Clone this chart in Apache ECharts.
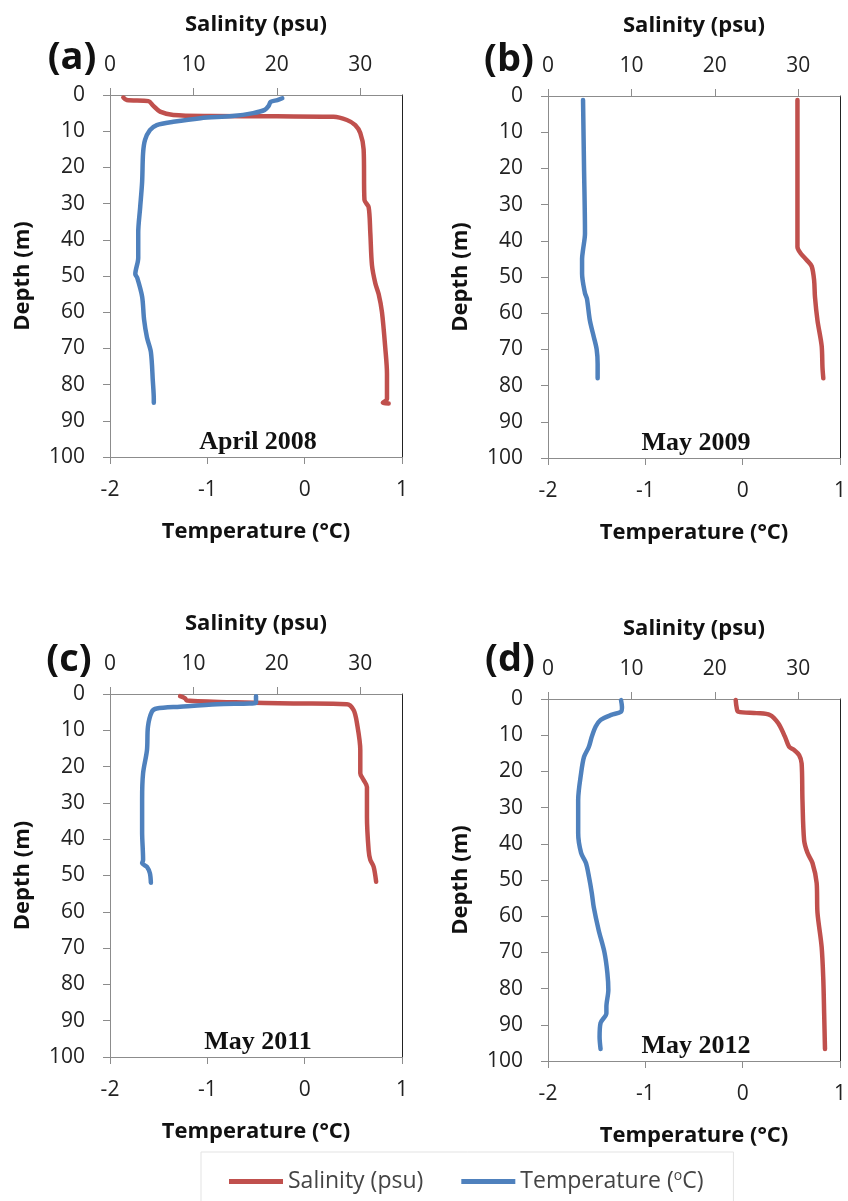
<!DOCTYPE html>
<html>
<head>
<meta charset="utf-8">
<script src="https://cdn.jsdelivr.net/npm/echarts@6/dist/echarts.min.js"></script>
<style>
  html, body { margin: 0; padding: 0; background: #fff; }
  #main { width: 848px; height: 1201px; }
</style>
</head>
<body>
<div id="main"></div>
<script>
// panel titles and dates
var panelTags = ['(a)', '(b)', '(c)', '(d)'];
var panelDates = ['April 2008', 'May 2009', 'May 2011', 'May 2012'];

// axis ticks
var salTicks = [0, 10, 20, 30];
var tempTicks = [-2, -1, 0, 1];
var depthTicks = [0, 10, 20, 30, 40, 50, 60, 70, 80, 90, 100];

// (a) April 2008
var salA =      [1.6, 2.0, 4.6, 5.2, 6.0, 7.6, 12, 20, 26.8, 28.4, 29.4, 30.0, 30.4, 30.5, 31.0, 31.2, 31.4, 31.8, 32.2, 32.6, 33.0, 33.2, 33.2, 32.7, 33.4];
var salADepth = [0.7, 1.4, 1.7, 3.0, 4.6, 5.5, 5.8, 5.9, 6.0, 6.9, 8.3, 10.5, 15, 29, 31, 38, 47, 52, 55, 60, 70, 77, 84, 85, 85.2];
var tempA =      [-0.23, -0.28, -0.35, -0.37, -0.41, -0.53, -0.74, -1.07, -1.35, -1.52, -1.59, -1.64, -1.66, -1.67, -1.69, -1.71, -1.71, -1.74, -1.72, -1.67, -1.65, -1.62, -1.58, -1.56, -1.55, -1.55];
var tempADepth = [0.9, 1.4, 1.9, 3.0, 4.1, 5.0, 5.8, 6.4, 7.4, 8.3, 9.7, 12.4, 16, 24, 31, 38, 45, 49.5, 50.5, 55.7, 62, 67, 71, 79, 84, 85];

// (b) May 2009
var salB =      [29.9, 29.9, 29.9, 29.9, 30.3, 31.0, 31.6, 31.9, 32.0, 32.3, 32.8, 32.9, 33.0];
var salBDepth = [1.1, 15, 30, 41.7, 43.5, 45.3, 47, 51, 55.5, 62, 69, 75, 78];
var tempB =      [-1.64, -1.63, -1.62, -1.64, -1.65, -1.65, -1.62, -1.60, -1.57, -1.53, -1.50, -1.49, -1.49];
var tempBDepth = [1.1, 19.5, 38, 42.5, 45, 49, 54.5, 56, 62, 66.5, 70, 74, 78];

// (c) May 2011
var salC =      [8.4, 9.0, 9.2, 15, 22, 28.4, 29.2, 29.6, 30.0, 30.0, 30.4, 30.8, 30.8, 31.0, 31.2, 31.6, 31.9];
var salCDepth = [0.6, 1.2, 1.8, 2.3, 2.6, 2.8, 4.4, 8, 15.4, 21.8, 23.7, 25.6, 33.8, 43, 45.7, 47.6, 51.7];
var tempC =      [-0.50, -0.50, -0.90, -1.28, -1.52, -1.57, -1.61, -1.62, -1.66, -1.67, -1.67, -1.66, -1.67, -1.62, -1.59, -1.58];
var tempCDepth = [0.6, 2.4, 2.8, 3.5, 4.0, 4.9, 9, 15.4, 21.8, 29, 38, 45.7, 46.6, 47.6, 49.4, 52];

// (d) May 2012
var salD =      [22.5, 22.6, 22.8, 25.0, 26.6, 27.6, 28.4, 28.9, 29.5, 30.1, 30.4, 30.5, 30.7, 31.1, 31.7, 32.2, 32.3, 32.8, 33.0, 33.1, 33.2];
var salDDepth = [0.3, 2.2, 3.5, 3.9, 4.4, 6.7, 10.4, 13.2, 14.1, 15.5, 17.8, 27.9, 39, 42.5, 45.3, 50.8, 59, 68.5, 77.6, 86.8, 96.7];
var tempD =      [-1.25, -1.24, -1.25, -1.35, -1.46, -1.51, -1.55, -1.58, -1.63, -1.66, -1.69, -1.69, -1.66, -1.61, -1.58, -1.55, -1.53, -1.48, -1.42, -1.39, -1.38, -1.40, -1.40, -1.46, -1.47, -1.46];
var tempDDepth = [0.3, 2.2, 3.5, 4.4, 5.8, 7.6, 10.4, 13.2, 16, 20.5, 27.9, 37, 42.5, 45.3, 49, 53.6, 57.5, 63.8, 70, 75.7, 80.4, 85, 86.8, 89.5, 93.4, 96.7];

var salSets = [[salA, salADepth], [salB, salBDepth], [salC, salCDepth], [salD, salDDepth]];
var tempSets = [[tempA, tempADepth], [tempB, tempBDepth], [tempC, tempCDepth], [tempD, tempDDepth]];

var SAL_NAME = 'Salinity (psu)';
var TEMP_NAME = 'Temperature (°C)';
var RED = '#C0504D';
var BLUE = '#4F81BD';
var AXIS_GREY = '#8c8c8c';
var FONT = '"Open Sans", Lato, sans-serif';

var grids = [
  { left: 110, top: 95, width: 292, height: 362 },
  { left: 548, top: 96, width: 292, height: 362 },
  { left: 110, top: 694, width: 292, height: 363 },
  { left: 548, top: 699, width: 292, height: 362 }
];
var tagPos = [[72, 58], [509, 60], [69, 660], [510, 660]];

function zip(xs, ys) {
  return xs.map(function (x, i) { return [x, ys[i]]; });
}

var nameStyle = { fontFamily: FONT, fontWeight: 'bold', fontSize: 22, color: '#111' };
var labelStyle = { fontFamily: FONT, fontSize: 21, color: '#222' };

var xAxes = [], yAxes = [], series = [], graphics = [];

grids.forEach(function (g, i) {
  g.outerBoundsMode = 'none';
  g.show = false;

  // salinity on top
  xAxes.push({
    type: 'value', gridIndex: i, position: 'top',
    min: 0, max: 35, interval: 10,
    name: SAL_NAME, nameLocation: 'middle', nameGap: 59,
    nameTextStyle: nameStyle,
    axisLine: { show: true, lineStyle: { color: AXIS_GREY, width: 1 } },
    axisTick: { show: true, length: 7, customValues: salTicks, lineStyle: { color: AXIS_GREY } },
    axisLabel: Object.assign({ customValues: salTicks, margin: 19 }, labelStyle),
    splitLine: { show: false }
  });
  // temperature on bottom
  xAxes.push({
    type: 'value', gridIndex: i, position: 'bottom',
    min: -2, max: 1, interval: 1,
    name: TEMP_NAME, nameLocation: 'middle', nameGap: 64,
    nameTextStyle: nameStyle,
    axisLine: { show: true, onZero: false, lineStyle: { color: AXIS_GREY, width: 1 } },
    axisTick: { show: true, length: 7, customValues: tempTicks, lineStyle: { color: AXIS_GREY } },
    axisLabel: Object.assign({ customValues: tempTicks, margin: 23 }, labelStyle),
    splitLine: { show: false }
  });
  // depth
  yAxes.push({
    type: 'value', gridIndex: i, position: 'left', inverse: true,
    min: 0, max: 100, interval: 10,
    name: 'Depth (m)', nameLocation: 'middle', nameGap: 76, nameRotate: 90,
    nameTextStyle: nameStyle,
    axisLine: { show: true, onZero: false, lineStyle: { color: AXIS_GREY, width: 1 } },
    axisTick: { show: true, length: 7, customValues: depthTicks, lineStyle: { color: AXIS_GREY } },
    axisLabel: Object.assign({ customValues: depthTicks, margin: 25 }, labelStyle),
    splitLine: { show: false }
  });
  // right border
  yAxes.push({
    type: 'value', gridIndex: i, position: 'right', inverse: true,
    min: 0, max: 100,
    axisLine: { show: true, onZero: false, lineStyle: { color: '#222', width: 1 } },
    axisTick: { show: false }, axisLabel: { show: false }, splitLine: { show: false }
  });

  series.push({
    name: SAL_NAME, type: 'line', xAxisIndex: i * 2, yAxisIndex: i * 2,
    data: zip(salSets[i][0], salSets[i][1]),
    showSymbol: false, smooth: 0.3, color: RED,
    lineStyle: { width: 4.5, color: RED, cap: 'round', join: 'round' }
  });
  series.push({
    name: TEMP_NAME, type: 'line', xAxisIndex: i * 2 + 1, yAxisIndex: i * 2,
    data: zip(tempSets[i][0], tempSets[i][1]),
    showSymbol: false, smooth: 0.3, color: BLUE,
    lineStyle: { width: 4.5, color: BLUE, cap: 'round', join: 'round' }
  });

  graphics.push({
    type: 'text', x: tagPos[i][0], y: tagPos[i][1],
    style: { text: panelTags[i], font: 'bold 38px ' + FONT, fill: '#111', align: 'center', verticalAlign: 'middle' }
  });
  graphics.push({
    type: 'text', x: g.left + g.width / 2 + 2, y: g.top + g.height - 15,
    style: { text: panelDates[i], font: 'bold 26px "Liberation Serif", "DejaVu Serif", serif', fill: '#111', align: 'center', verticalAlign: 'middle' }
  });
});

var option = {
  backgroundColor: '#fff',
  animation: false,
  grid: grids,
  xAxis: xAxes,
  yAxis: yAxes,
  series: series,
  graphic: graphics,
  legend: {
    data: [SAL_NAME, TEMP_NAME],
    left: 201, top: 1152,
    padding: [17, 30, 18, 28],
    borderColor: '#e3e3e3', borderWidth: 1,
    icon: 'rect', itemWidth: 54, itemHeight: 5, itemGap: 38,
    formatter: function (name) {
      return name === TEMP_NAME ? 'Temperature ({sup|o}C)' : name;
    },
    textStyle: {
      fontFamily: FONT, fontSize: 23, color: '#444',
      rich: { sup: { fontFamily: FONT, fontSize: 14, color: '#444', verticalAlign: 'top', padding: [0, 0, 11, 0] } }
    }
  }
};

var chart = echarts.init(document.getElementById('main'), null, { renderer: 'canvas' });
chart.setOption(option);
</script>
</body>
</html>
